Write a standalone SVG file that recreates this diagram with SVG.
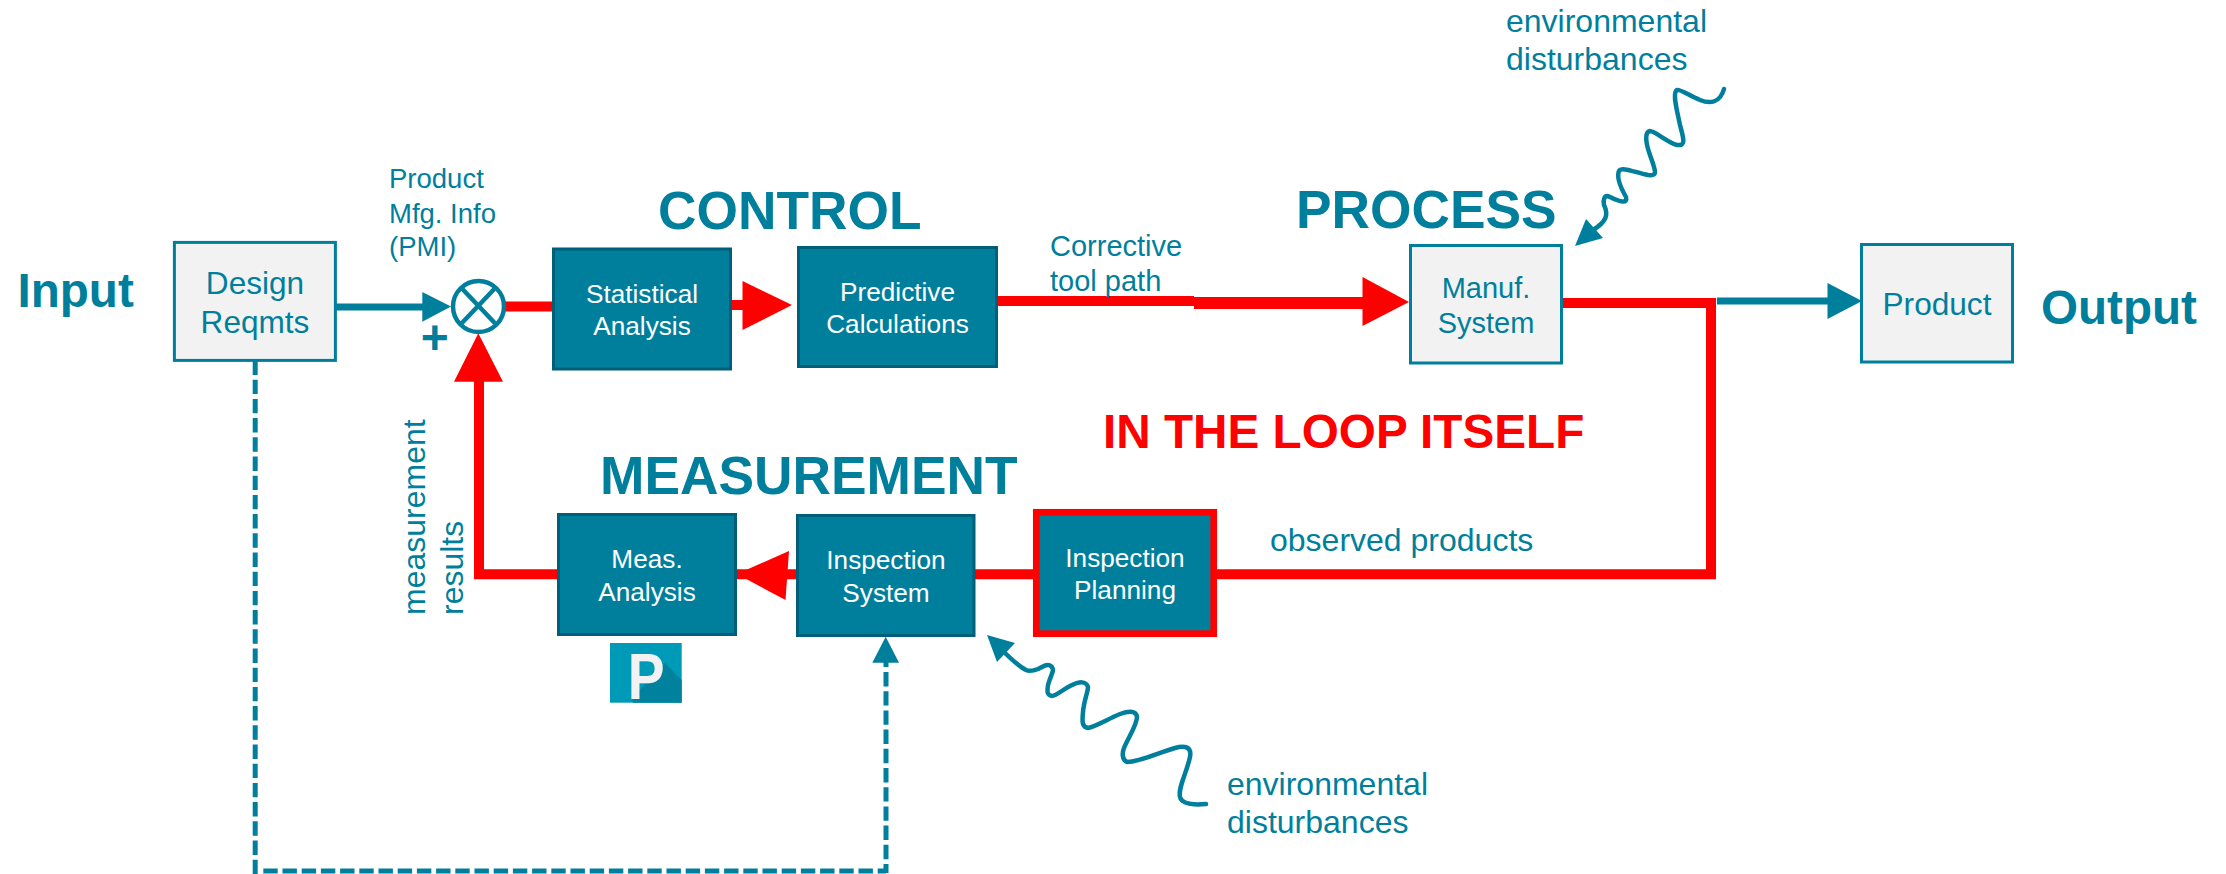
<svg xmlns="http://www.w3.org/2000/svg" width="2226" height="874" viewBox="0 0 2226 874">
<style>
text{font-family:"Liberation Sans",Arial,sans-serif;fill:#007f9d}
.h{font-weight:bold;font-size:53.300px}
.io{font-weight:bold;font-size:47.600px}
.w{fill:#fff;font-size:26.200px;text-anchor:middle}
.t{font-size:31.600px;text-anchor:middle}
.l{font-size:32px}
.lt{fill:#f2f2f2;stroke:#007f9d;stroke-width:3}
.dk{fill:#007f9d;stroke:#005f78;stroke-width:3}
.r{fill:none;stroke:#f00;stroke-width:10}
.b{fill:none;stroke:#007f9d;stroke-width:7}
.wave{fill:none;stroke:#007f9d;stroke-width:4.500;stroke-linecap:round}
.dash{fill:none;stroke:#007f9d;stroke-width:5;stroke-dasharray:14.400 4.800}
.rf{fill:#f00}
.bf{fill:#007f9d}
</style>
<rect width="2226" height="874" fill="#fff"/>
<g id="connectors">
<path class="dash" d="M255.200,360.500V874"/>
<path class="dash" d="M263.300,871H886"/>
<path class="dash" d="M886,672V873"/>
<path d="M886,662V667" fill="none" stroke="#007f9d" stroke-width="5"/>
<polygon class="bf" points="885.700,636.700 899,662.700 872.300,662.700"/>
<path class="b" d="M336,307H424"/>
<polygon class="bf" points="451,306.500 422.300,292 422.300,321.700"/>
<path class="r" d="M504,306.500H552"/>
<path class="r" d="M732,305H745"/>
<polygon class="rf" points="792,305 742.500,281 742.500,330"/>
<path class="r" d="M998,301H1194"/>
<path d="M1194,297H1365V309H1194Z" class="rf"/>
<polygon class="rf" points="1409,302 1362.500,277 1362.500,326"/>
<path class="r" d="M1563,303H1711V574.300H479V380"/>
<polygon class="rf" points="478.300,333.300 503,381.700 454,381.700"/>
<polygon class="rf" points="737,574 789,551 785.500,600"/>
<path class="b" d="M1717,301H1830"/>
<polygon class="bf" points="1862,301 1827.500,283 1827.500,319"/>
<path class="wave" d="M1724,89C1720,103 1710,104 1700,100C1690,96 1680,89 1677,90C1672,93 1677,110 1680,125C1684,140 1686,146 1677,145C1668,143 1655,131 1650,131C1644,132 1646,144 1650,155C1656,172 1658,176 1648,175C1636,173 1622,166 1619,171C1616,178 1622,190 1626,197C1628,204 1620,202 1610,197C1604,194 1603,200 1604,205C1609,215 1606,222 1593,230"/>
<polygon class="bf" points="1575,246 1586,219 1603,238"/>
<path class="wave" d="M1206,804C1195,805 1182,805 1180,797C1178,787 1186,775 1190,757C1192,747 1185,745 1175,748C1160,752 1140,762 1127,762C1122,760 1122,753 1124,748C1128,738 1137,725 1137,717C1136,710 1128,711 1120,714C1108,719 1095,727 1088,728C1082,727 1082,722 1083,712C1084,700 1088,692 1088,687C1086,681 1080,681 1070,686C1062,690 1056,696 1052,696C1047,695 1047,692 1048,685C1050,678 1053,672 1053,670C1052,664 1047,664 1042,667C1037,670 1030,672 1026,670C1018,666 1012,660 1003,651"/>
<polygon class="bf" points="987,635 1015,643 997,662"/>
</g>
<g id="design-reqmts">
<rect class="lt" x="174.400" y="242.400" width="161" height="118"/>
<text class="t" x="255" y="294">Design</text>
<text class="t" x="255" y="332.700">Reqmts</text>
</g>
<g id="summing-junction">
<circle cx="478.500" cy="306.500" r="25.500" fill="#fff" stroke="#007f9d" stroke-width="4.500"/>
<path d="M461.700,288.300L495,323.300M495,288.300L461.700,323.300" stroke="#007f9d" stroke-width="4.500" fill="none"/>
<text x="434.700" y="353.500" font-size="48" font-weight="bold" text-anchor="middle">+</text>
</g>
<g id="statistical-analysis">
<rect class="dk" x="553.500" y="249" width="177" height="120"/>
<text class="w" x="642" y="302.700">Statistical</text>
<text class="w" x="642" y="335">Analysis</text>
</g>
<g id="predictive-calculations">
<rect class="dk" x="798.500" y="247.500" width="198" height="119"/>
<text class="w" x="897.500" y="301">Predictive</text>
<text class="w" x="897.500" y="333">Calculations</text>
</g>
<g id="manuf-system">
<rect class="lt" x="1410.500" y="245.500" width="151" height="117.500"/>
<text x="1486" y="298" font-size="29" text-anchor="middle">Manuf.</text>
<text x="1486" y="332.500" font-size="29" text-anchor="middle">System</text>
</g>
<g id="product">
<rect class="lt" x="1861.500" y="244.500" width="151" height="117.500"/>
<text class="t" x="1937" y="315">Product</text>
</g>
<g id="meas-analysis">
<rect class="dk" x="558.500" y="514.500" width="177" height="120"/>
<text class="w" x="647" y="568">Meas.</text>
<text class="w" x="647" y="600.700">Analysis</text>
</g>
<g id="inspection-system">
<rect class="dk" x="797.500" y="515.500" width="176.500" height="120"/>
<text class="w" x="886" y="569">Inspection</text>
<text class="w" x="886" y="601.700">System</text>
</g>
<g id="inspection-planning">
<rect x="1036.300" y="512.300" width="177.400" height="121.400" fill="#007f9d" stroke="#f00" stroke-width="6.700"/>
<text class="w" x="1125" y="567">Inspection</text>
<text class="w" x="1125" y="599">Planning</text>
</g>
<g id="p-badge">
<rect x="610" y="643" width="71.700" height="59.700" fill="#009ab9"/>
<polygon points="665,663 681.700,680 681.700,702.700 633,702.700 632,698" fill="#00829f"/>
<text transform="translate(627.700,699) scale(.85,1)" font-size="65" font-weight="bold" style="fill:#f2f2f2">P</text>
</g>
<g id="labels">
<text class="io" x="17.500" y="307">Input</text>
<text class="io" x="2041" y="324">Output</text>
<text class="h" x="658" y="229">CONTROL</text>
<text class="h" x="1296" y="228">PROCESS</text>
<text class="h" x="600" y="494">MEASUREMENT</text>
<text x="1103" y="448" font-size="47.700" font-weight="bold" style="fill:#f00">IN THE LOOP ITSELF</text>
<text x="389" y="188" font-size="27.500">Product</text>
<text x="389" y="222.700" font-size="27.500">Mfg. Info</text>
<text x="389" y="256" font-size="27.500">(PMI)</text>
<text x="1050" y="255.700" font-size="29">Corrective</text>
<text x="1050" y="291" font-size="29">tool path</text>
<text class="l" x="1270" y="551.300">observed products</text>
<text class="l" x="1506" y="32">environmental</text>
<text class="l" x="1506" y="70">disturbances</text>
<text class="l" x="1227" y="795">environmental</text>
<text class="l" x="1227" y="833">disturbances</text>
<text class="l" transform="translate(424.500,615) rotate(-90)">measurement</text>
<text class="l" transform="translate(463,615) rotate(-90)">results</text>
</g>
</svg>
